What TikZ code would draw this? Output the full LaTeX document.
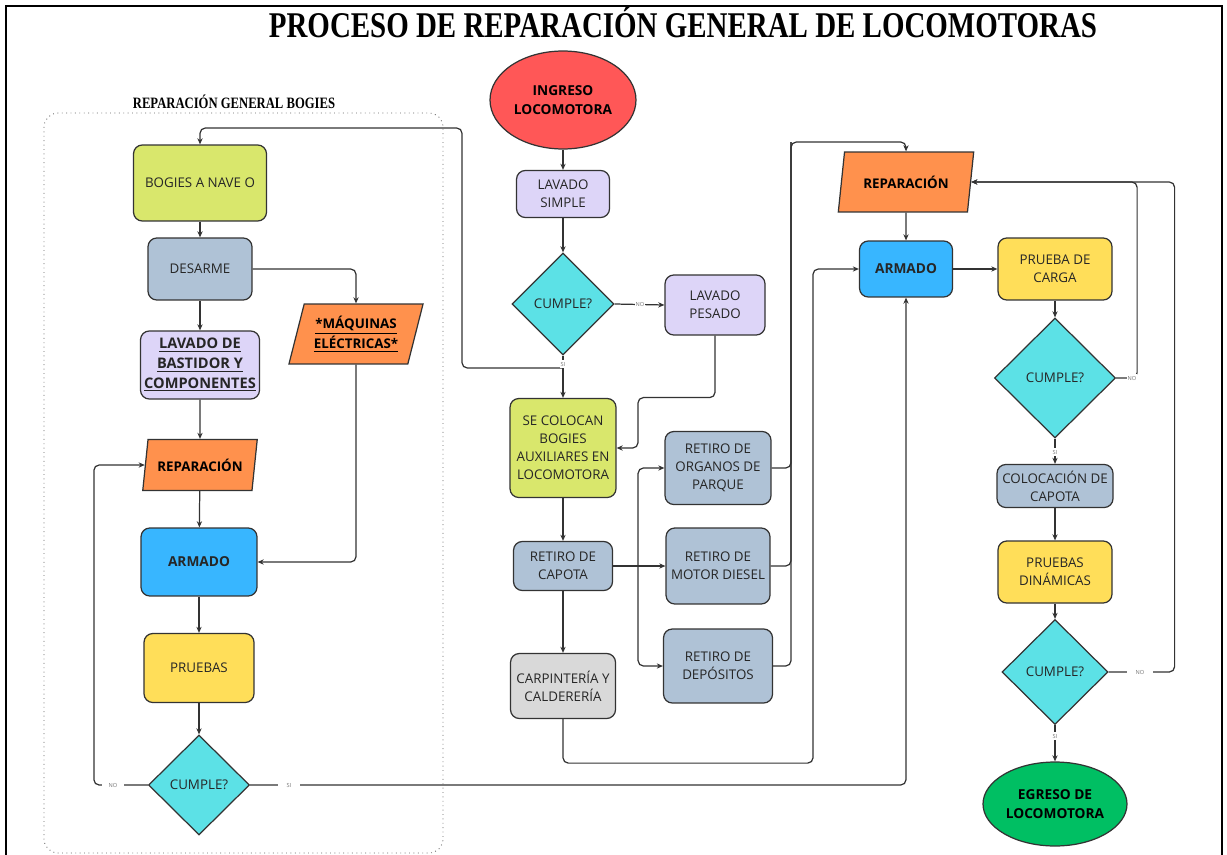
\documentclass[tikz,border=0pt]{standalone}
\usepackage{fontspec}
\setmainfont{Open Sans}
\newfontfamily\titlefont[FakeStretch=0.8]{Liberation Serif}
\usetikzlibrary{arrows.meta,positioning,shapes.geometric}
\definecolor{linegray}{HTML}{333333}
\definecolor{limefill}{HTML}{D9E76C}
\definecolor{slatefill}{HTML}{AFC2D6}
\definecolor{lilacfill}{HTML}{DDD5F8}
\definecolor{orangefill}{HTML}{FF914D}
\definecolor{bluefill}{HTML}{38B6FF}
\definecolor{yellowfill}{HTML}{FFDE59}
\definecolor{cyanfill}{HTML}{5CE1E6}
\definecolor{redfill}{HTML}{FF5757}
\definecolor{greenfill}{HTML}{00BF63}
\definecolor{greyfill}{HTML}{D9D9D9}

\begin{document}
\begin{tikzpicture}[x=0.02cm,y=-0.02cm,
  box/.style={draw=linegray,line width=0.7pt,rounded corners=5pt,align=center,
    inner sep=1pt,text=black!85,font=\fontsize{7.6}{10.2}\selectfont},
  slanted/.style={trapezium,trapezium stretches=true,trapezium left angle=71,
    trapezium right angle=109,draw=linegray,line width=0.7pt,fill=orangefill,
    align=center,inner sep=0pt,font=\bfseries\fontsize{7.6}{10.2}\selectfont},
  decision/.style={diamond,draw=linegray,line width=0.7pt,fill=cyanfill,inner sep=0pt,
    text=black!85,font=\fontsize{7.6}{10.2}\selectfont},
  terminal/.style={ellipse,draw=linegray,line width=0.7pt,align=center,inner sep=0pt,
    font=\bfseries\fontsize{7.8}{10.6}\selectfont},
  link/.style={draw=linegray,line width=0.7pt,rounded corners=3pt,-{Stealth[length=3.5pt,width=3pt]}},
  wire/.style={draw=linegray,line width=0.7pt,rounded corners=3pt},
  tag/.style={fill=white,inner ysep=1pt,text=black!55,font=\fontsize{3.2}{4}\selectfont}
]
\useasboundingbox (0,0) rectangle (1227,855);

% frame and titles
\draw[line width=1.4pt] (6,858) -- (6,6) -- (1222,6) -- (1222,858);
\node (title) at (683,22) {\titlefont\bfseries\fontsize{20.6}{24}\selectfont PROCESO DE REPARACIÓN GENERAL DE LOCOMOTORAS};
\node (subtitle) at (234,102) {\titlefont\bfseries\fontsize{9}{10}\selectfont REPARACIÓN GENERAL BOGIES};
\draw[black!60,line width=0.5pt,dotted,rounded corners=8pt] (44,113) rectangle (443,853);

% bogies
\node[box,fill=limefill,minimum width=2.66cm,minimum height=1.52cm] (bogies) at (200,183) {BOGIES A NAVE O};
\node[box,fill=slatefill,minimum width=2.08cm,minimum height=1.24cm] (desarme) at (200,269) {DESARME};
\node[box,fill=lilacfill,minimum width=2.38cm,minimum height=1.36cm,
  font=\bfseries\fontsize{8.3}{11.2}\selectfont] (bastidor) at (200,365)
  {\underline{LAVADO DE}\\\underline{BASTIDOR Y}\\\underline{COMPONENTES}};
\node[slanted,minimum width=2.7cm,minimum height=1.2cm] (maquinas) at (356,334)
  {\underline{*MÁQUINAS}\\\underline{ELÉCTRICAS*}};
\node[slanted,minimum width=2.3cm,minimum height=1.02cm] (repL) at (200,465) {REPARACIÓN};
\node[box,fill=bluefill,minimum width=2.32cm,minimum height=1.36cm,font=\bfseries\fontsize{7.8}{10.2}\selectfont] (armadoL) at (199,562) {ARMADO};
\node[box,fill=yellowfill,minimum width=2.2cm,minimum height=1.38cm] (pruebas) at (199,668) {PRUEBAS};
\node[decision,minimum width=2.02cm,minimum height=2cm] (cumpleL) at (199,785) {CUMPLE?};

% locomotora
\node[terminal,fill=redfill,minimum width=2.92cm,minimum height=1.96cm] (ingreso) at (563,100) {INGRESO\\LOCOMOTORA};
\node[box,fill=lilacfill,minimum width=1.86cm,minimum height=0.94cm] (lavsimple) at (563,194) {LAVADO\\SIMPLE};
\node[decision,minimum width=2.04cm,minimum height=2.04cm] (cumpleM) at (563,304) {CUMPLE?};
\node[box,fill=lilacfill,minimum width=2cm,minimum height=1.2cm] (lavpesado) at (715,305) {LAVADO\\PESADO};
\node[box,fill=limefill,minimum width=2.12cm,minimum height=1.98cm] (colocan) at (563,448) {SE COLOCAN\\BOGIES\\AUXILIARES EN\\LOCOMOTORA};
\node[box,fill=slatefill,minimum width=1.98cm,minimum height=0.98cm] (capota) at (563,566) {RETIRO DE\\CAPOTA};
\node[box,fill=greyfill,minimum width=2.1cm,minimum height=1.3cm] (carpinteria) at (563,686) {CARPINTERÍA Y\\CALDERERÍA};
\node[box,fill=slatefill,minimum width=2.12cm,minimum height=1.46cm] (organos) at (718,468) {RETIRO DE\\ORGANOS DE\\PARQUE};
\node[box,fill=slatefill,minimum width=2.08cm,minimum height=1.52cm] (motor) at (718,566) {RETIRO DE\\MOTOR DIESEL};
\node[box,fill=slatefill,minimum width=2.18cm,minimum height=1.48cm] (depositos) at (718,666) {RETIRO DE\\DEPÓSITOS};

% armado final
\node[slanted,minimum width=2.72cm,minimum height=1.2cm] (repR) at (906,182) {REPARACIÓN};
\node[box,fill=bluefill,minimum width=1.86cm,minimum height=1.12cm,font=\bfseries\fontsize{7.8}{10.2}\selectfont] (armadoR) at (906,269) {ARMADO};
\node[box,fill=yellowfill,minimum width=2.28cm,minimum height=1.24cm] (carga) at (1055,269) {PRUEBA DE\\CARGA};
\node[decision,minimum width=2.42cm,minimum height=2.4cm] (cumpleR) at (1055,378) {CUMPLE?};
\node[box,fill=slatefill,minimum width=2.32cm,minimum height=0.86cm] (colocacion) at (1055,486) {COLOCACIÓN DE\\CAPOTA};
\node[box,fill=yellowfill,minimum width=2.28cm,minimum height=1.24cm] (dinamicas) at (1055,572) {PRUEBAS\\DINÁMICAS};
\node[decision,minimum width=2.12cm,minimum height=2.1cm] (cumpleF) at (1055,672) {CUMPLE?};
\node[terminal,fill=greenfill,minimum width=2.88cm,minimum height=1.68cm] (egreso) at (1055,804) {EGRESO DE\\LOCOMOTORA};

% connectors, bogies
\draw[link] (bogies) -- (desarme);
\draw[link] (desarme.east) -| (maquinas.north);
\draw[link] (desarme) -- (bastidor);
\draw[link] (bastidor) -- (repL);
\draw[link] (maquinas.south) |- (armadoL.east);
\draw[link] (repL) -- (armadoL);
\draw[link] (armadoL) -- (pruebas);
\draw[link] (pruebas) -- (cumpleL);
\draw[link] (cumpleL.west) -- ++(-54,0) |- (repL.west);
\draw[link] (cumpleL.east) -| (armadoR.south);

% connectors, locomotora
\coordinate (siM) at (563,368);
\coordinate (bus) at (791,142);
\draw[link] (ingreso) -- (lavsimple);
\draw[link] (lavsimple) -- (cumpleM);
\draw[link] (cumpleM.east) -- (lavpesado.west);
\draw[link] (cumpleM.south) -- (colocan.north);
\draw[link] (siM) -- ++(-101,0) -- ++(0,-240) -| (bogies.north);
\draw[link] (lavpesado.south) -- ++(0,62) -- ++(-77,0) |- (colocan.east);
\draw[link] (colocan) -- (capota);
\draw[link] (capota) -- (carpinteria);
\path (capota.east) -- ++(25,0) coordinate (split);
\draw[link] (split) |- (organos.west);
\draw[link] (capota.east) -- (motor.west);
\draw[link] (split) |- (depositos.west);
\draw[link] (organos.east) -| (bus) -| (repR.north);
\draw[wire] (motor.east) -| (bus);
\draw[wire] (depositos.east) -| (bus);
\draw[link] (carpinteria.south) -- ++(0,44) -- ++(250,0) |- (armadoR.west);

% connectors, armado final
\draw[link] (repR) -- (armadoR);
\draw[link] (armadoR) -- (carga);
\draw[link] (carga) -- (cumpleR);
\draw[link] (cumpleR.south) -- (colocacion);
\draw[link] (colocacion) -- (dinamicas);
\draw[link] (dinamicas) -- (cumpleF);
\draw[link] (cumpleF.south) -- (egreso);
\draw[link] (cumpleR.east) -- ++(21,0) |- (repR.east);
\draw[link] (cumpleF.east) -- ++(66,0) |- (repR.east);

% labels on the lines
\node[tag,inner xsep=4pt] (noL) at (113,785) {NO};
\node[tag,inner xsep=5pt] (siL) at (289,785) {SI};
\node[tag,inner xsep=0.5pt] (noM) at (640,304) {NO};
\node[tag,inner xsep=0.5pt] (siMtag) at (563,364) {SI};
\node[tag,inner xsep=0.5pt] (noR) at (1132,378) {NO};
\node[tag,inner xsep=0.5pt] (siR) at (1055,452) {SI};
\node[tag,inner xsep=5pt] (noF) at (1140,672) {NO};
\node[tag,inner xsep=0.5pt] (siF) at (1055,736) {SI};
\end{tikzpicture}
\end{document}
